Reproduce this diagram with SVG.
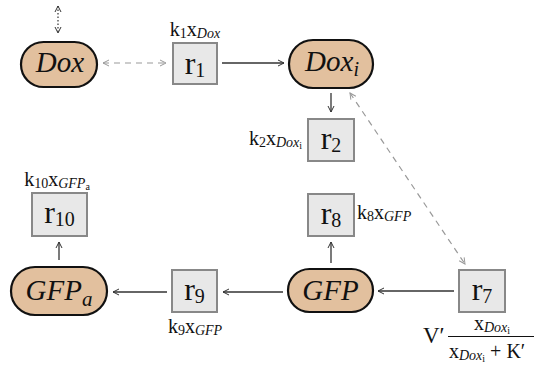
<svg xmlns="http://www.w3.org/2000/svg" width="534" height="365" viewBox="0 0 534 365">
<defs>
<style>
.sp rect{fill:#e2c09e;stroke:#111;stroke-width:2.2}
.rx rect{fill:#e8e8e8;stroke:#888;stroke-width:2}
.t{font-family:"Liberation Serif","Times New Roman","DejaVu Serif",serif;fill:#111}
.nl{font-size:29px;font-style:italic}
.rl{font-size:32px}
.lb{font-size:20px}
.it{font-style:italic}
.solid{stroke:#333;stroke-width:1.3;fill:none}
.dash{stroke:#999;stroke-width:1.2;fill:none;stroke-dasharray:6 5}
.dot{stroke:#333;stroke-width:1.2;fill:none;stroke-dasharray:1.5 2}
</style>
<marker id="ah" viewBox="0 0 8 8" refX="7" refY="4" markerWidth="8" markerHeight="8" markerUnits="userSpaceOnUse" orient="auto-start-reverse">
<path d="M1,1 L7,4 L1,7" fill="none" stroke="#333" stroke-width="1"/>
</marker>
<marker id="ag" viewBox="0 0 8 8" refX="7" refY="4" markerWidth="8" markerHeight="8" markerUnits="userSpaceOnUse" orient="auto-start-reverse">
<path d="M1,1 L7,4 L1,7" fill="none" stroke="#999" stroke-width="1"/>
</marker>
</defs>
<rect width="534" height="365" fill="#fff"/>

<g id="connectors">
<line class="dot" x1="58" y1="6" x2="58" y2="33" marker-start="url(#ah)" marker-end="url(#ah)"/>
<line class="dash" x1="103" y1="63" x2="166" y2="63" marker-start="url(#ag)" marker-end="url(#ag)"/>
<line class="solid" x1="222" y1="63" x2="284" y2="63" marker-end="url(#ah)"/>
<line class="solid" x1="331" y1="93" x2="331" y2="112" marker-end="url(#ah)"/>
<line class="dash" x1="350" y1="93" x2="465" y2="264" marker-start="url(#ag)" marker-end="url(#ag)"/>
<line class="solid" x1="454" y1="291" x2="378" y2="291" marker-end="url(#ah)"/>
<line class="solid" x1="331" y1="263" x2="331" y2="242" marker-end="url(#ah)"/>
<line class="solid" x1="283" y1="292" x2="223" y2="292" marker-end="url(#ah)"/>
<line class="solid" x1="167" y1="292" x2="113" y2="292" marker-end="url(#ah)"/>
<line class="solid" x1="59" y1="260" x2="59" y2="242" marker-end="url(#ah)"/>
</g>

<g id="Dox" class="sp">
<rect x="21" y="42" width="76" height="45" rx="22.5"/>
<text class="t nl" x="60" y="72" text-anchor="middle">Dox</text>
</g>
<g id="Doxi" class="sp">
<rect x="289" y="40" width="84" height="48" rx="24"/>
<text class="t nl" x="332" y="71" text-anchor="middle">Dox<tspan font-size="20" dy="5">i</tspan></text>
</g>
<g id="GFP" class="sp">
<rect x="288" y="269" width="85" height="43" rx="21.5"/>
<text class="t nl" x="330.5" y="300" text-anchor="middle">GFP</text>
</g>
<g id="GFPa" class="sp">
<rect x="11" y="267" width="96" height="48" rx="24"/>
<text class="t nl" x="59" y="300" text-anchor="middle">GFP<tspan font-size="21" dy="6">a</tspan></text>
</g>

<g id="r1" class="rx">
<rect x="173" y="43" width="44" height="41"/>
<text class="t rl" x="195" y="74" text-anchor="middle">r<tspan font-size="20" dy="3">1</tspan></text>
<text class="t lb" x="195" y="36" text-anchor="middle">k<tspan font-size="14" dy="2">1</tspan><tspan dy="-2">x</tspan><tspan class="it" font-size="14" dy="2">Dox</tspan></text>
</g>
<g id="r2" class="rx">
<rect x="308" y="119" width="46" height="42"/>
<text class="t rl" x="331" y="149" text-anchor="middle">r<tspan font-size="20" dy="3">2</tspan></text>
<text class="t lb" x="302" y="145" text-anchor="end">k<tspan font-size="14" dy="2">2</tspan><tspan dy="-2">x</tspan><tspan class="it" font-size="14" dy="2">Dox</tspan><tspan font-size="10" dy="2">i</tspan></text>
</g>
<g id="r8" class="rx">
<rect x="308" y="194" width="46" height="42"/>
<text class="t rl" x="331" y="224" text-anchor="middle">r<tspan font-size="20" dy="3">8</tspan></text>
<text class="t lb" x="357" y="219">k<tspan font-size="14" dy="2">8</tspan><tspan dy="-2">x</tspan><tspan class="it" font-size="14" dy="2">GFP</tspan></text>
</g>
<g id="r10" class="rx">
<rect x="32" y="193" width="55" height="43"/>
<text class="t rl" x="59.5" y="223" text-anchor="middle">r<tspan font-size="20" dy="3">10</tspan></text>
<text class="t lb" x="57" y="186" text-anchor="middle">k<tspan font-size="14" dy="2">10</tspan><tspan dy="-2">x</tspan><tspan class="it" font-size="14" dy="2">GFP</tspan><tspan font-size="10" dy="2">a</tspan></text>
</g>
<g id="r9" class="rx">
<rect x="172" y="270" width="45" height="42"/>
<text class="t rl" x="194.5" y="300" text-anchor="middle">r<tspan font-size="20" dy="3">9</tspan></text>
<text class="t lb" x="195" y="333" text-anchor="middle">k<tspan font-size="14" dy="2">9</tspan><tspan dy="-2">x</tspan><tspan class="it" font-size="14" dy="2">GFP</tspan></text>
</g>
<g id="r7" class="rx">
<rect x="459" y="270" width="46" height="42"/>
<text class="t rl" x="482" y="300" text-anchor="middle">r<tspan font-size="20" dy="3">7</tspan></text>
<text class="t" font-size="23" x="423" y="343">V′</text>
<line x1="448" y1="336.5" x2="540" y2="336.5" stroke="#111" stroke-width="1.1"/>
<text class="t lb" x="492" y="330" text-anchor="middle">x<tspan class="it" font-size="14" dy="2">Dox</tspan><tspan font-size="10" dy="2">i</tspan></text>
<text class="t lb" x="449" y="358">x<tspan class="it" font-size="14" dy="2">Dox</tspan><tspan font-size="10" dy="2">i</tspan><tspan dy="-4"> + K′</tspan></text>
</g>
</svg>
